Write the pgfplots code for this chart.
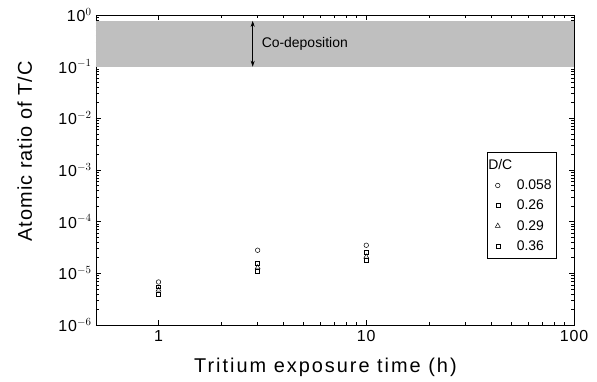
\documentclass[border=0pt]{standalone}
\usepackage{pgfplots}
\pgfplotsset{compat=1.18}
\usetikzlibrary{arrows.meta}
\usepackage{fontspec}
\setmainfont{Liberation Sans}
\newfontfamily\xlabfont[LetterSpace=10]{Liberation Sans}
\newfontfamily\ylabfont[LetterSpace=5]{Liberation Sans}
\newfontfamily\tickfont[LetterSpace=6]{Liberation Sans}
\begin{document}
\begin{tikzpicture}
\begin{axis}[
  name=ax,
  scale only axis,
  width=478bp, height=310bp,
  xmode=log, ymode=log,
  xmin=0.5, xmax=100,
  ymin=1e-6, ymax=1,
  xtick={1,10,100},
  xticklabels={1,10,100},
  ytick={1e-6,1e-5,1e-4,1e-3,1e-2,1e-1,1},
  yticklabels={10$^{-6}$,10$^{-5}$,10$^{-4}$,10$^{-3}$,10$^{-2}$,10$^{-1}$,10$^{0}$},
  /pgf/number format/assume math mode=true,
  tick align=inside,
  major tick length=5bp, minor tick length=3bp,
  tick style={black, line width=0.6pt},
  axis line style={line width=0.8pt},
  ticklabel style={font=\tickfont\fontsize{16}{16}\selectfont},
  xticklabel style={yshift=-2bp},
  yticklabel style={xshift=-1bp},
  xlabel={Tritium exposure time (h)},
  ylabel={Atomic ratio of T/C},
  xlabel style={font=\xlabfont\fontsize{20}{20}\selectfont, at={(axis description cs:0.48,-0.135)}, anchor=center},
  ylabel style={font=\ylabfont\fontsize{20}{20}\selectfont, at={(axis description cs:-0.149,0.56)}, anchor=center},
  legend style={at={(rel axis cs:0.819,0.558)}, anchor=north west, draw=black, line width=0.6pt,
    font=\fontsize{14}{15}\selectfont, row sep=5pt, inner xsep=3pt, inner ysep=5pt},
  legend cell align=left,
  legend image code/.code={\path[draw=none,fill=none] (0bp,0bp) -- (24bp,0bp); \draw[#1, draw=none] plot coordinates {(7bp,0bp)};},
  clip=false,
]
\addplot[fill=gray!50, draw=none, forget plot] coordinates {(0.5,0.1) (100,0.1) (100,0.77) (0.5,0.77)} -- cycle;
\draw[{Stealth[length=6bp,width=4bp]}-{Stealth[length=6bp,width=4bp]}, line width=0.7pt] (axis cs:2.84,0.1) -- (axis cs:2.84,0.77);
\node[anchor=west, font=\fontsize{14}{14}\selectfont] at (axis cs:3.02,0.28) {Co-deposition};
\addlegendimage{empty legend}
\addlegendentry{\hspace{-30bp}D/C}
\addplot[only marks, mark=o, mark size=2.3pt, black, line width=0.5pt] coordinates {(1,6.8e-6) (3,2.8e-5) (10,3.5e-5)};
\addlegendentry{0.058}
\addplot[only marks, mark=square, mark size=2pt, black, line width=0.5pt] coordinates {(1,5.5e-6) (3,1.6e-5) (10,2.6e-5)};
\addlegendentry{0.26}
\addplot[only marks, mark=triangle, mark size=2.8pt, black, line width=0.5pt] coordinates {(1,4.8e-6) (3,1.3e-5) (10,2.1e-5)};
\addlegendentry{0.29}
\addplot[only marks, mark=square, mark size=2pt, black, line width=0.5pt] coordinates {(1,4.0e-6) (3,1.1e-5) (10,1.8e-5)};
\addlegendentry{0.36}
\end{axis}
\path ([shift={(-96bp,-57bp)}]ax.south west) rectangle ([shift={(23bp,15bp)}]ax.north east);
\end{tikzpicture}
\end{document}
